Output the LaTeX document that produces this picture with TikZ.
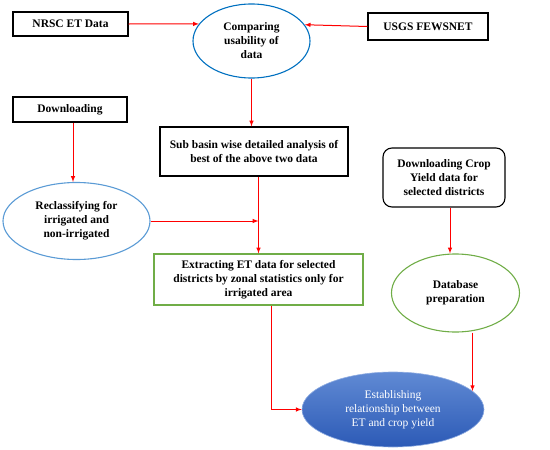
\documentclass[tikz,border=0pt]{standalone}
\usepackage{fontspec}
\setmainfont{Liberation Serif}
\usepackage{xcolor}
\usetikzlibrary{shapes.geometric}
\definecolor{lineblue}{RGB}{0,112,192}
\definecolor{paleblue}{RGB}{91,155,213}
\definecolor{boxgreen}{RGB}{112,173,71}
\definecolor{topblue}{RGB}{96,138,212}
\definecolor{botblue}{RGB}{44,90,182}
\begin{document}
\begin{tikzpicture}[x=1pt, y=-1pt, >=latex,
    every node/.style={font=\bfseries\fontsize{11.5}{14}\selectfont, align=center, inner sep=0pt},
    blackbox/.style={draw=black, line width=1.1pt, rectangle},
    greenbox/.style={draw=boxgreen, line width=1.1pt, rectangle},
    blueoval/.style={ellipse, draw=lineblue, line width=1.1pt},
    arr/.style={->, red, line width=1pt}]
                \useasboundingbox (0,0) rectangle (550,450);
                % top row
                \node[blackbox, minimum width=115, minimum height=24] (nrsc) at (70.5,24) {NRSC ET Data};
                \node[blueoval, minimum width=117, minimum height=74] (cmp) at (251.5,41) {Comparing\\usability of\\data};
                \node[blackbox, minimum width=120, minimum height=27] (usgs) at (428,26.5) {USGS FEWSNET};
                % middle
                \node[blackbox, minimum width=114, minimum height=25] (down) at (70,109.5) {Downloading};
                \node[blackbox, minimum width=188, minimum height=49] (sub) at (254,151.5) {Sub basin wise detailed analysis of\\best of the above two data};
                \node[ellipse, draw=paleblue, line width=1.1pt, minimum width=147, minimum height=77] (rec) at (76.5,221) {Reclassifying for\\irrigated and\\non-irrigated};
                \node[greenbox, minimum width=209, minimum height=51] (ext) at (258.5,279.5) {Extracting ET data for selected\\districts by zonal statistics only for\\irrigated area};
                \node[blackbox, rounded corners=9pt, minimum width=122, minimum height=59] (crop) at (444,177.5) {Downloading Crop\\Yield data for\\selected districts};
                \node[ellipse, draw=boxgreen, line width=1.1pt, minimum width=128, minimum height=78] (db) at (455.5,293) {Database\\preparation};
                % result
                \node[ellipse, top color=topblue, bottom color=botblue, draw=topblue!70!white, line width=0.6pt, text=white, font=\fontsize{11.5}{14}\selectfont, minimum width=182, minimum height=75] (est) at (393,409.5) {Establishing\\relationship between\\ET and crop yield};
                % connectors
                \draw[arr] (nrsc.east) -- (cmp.162);
                \draw[arr] (usgs.west) -- (cmp.17);
                \draw[arr] (cmp.south) -- (cmp.south |- sub.north);
                \draw[arr] ([xshift=3]down.south) -- ([xshift=3]down.south |- rec.north);
                \draw[arr] (sub.south -| ext.north) -- (ext.north);
                \draw[arr] (rec.east) -- (rec.east -| ext.north);
                \draw[arr] ([xshift=6]crop.south) -- ([xshift=6]crop.south |- db.north);
                \draw[arr] ([xshift=12.5]ext.south) |- (est.west);
                \draw[arr] ([xshift=17]db.south) -- ([xshift=17]db.south |- est.13);
            \end{tikzpicture}
\end{document}
